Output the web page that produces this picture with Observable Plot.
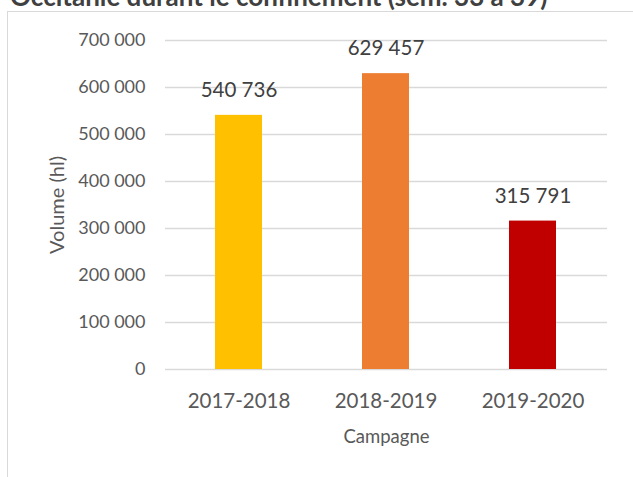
<!DOCTYPE html>
<html>
<head>
<meta charset="utf-8">
<script src="https://cdn.jsdelivr.net/npm/d3@7"></script>
<script src="https://cdn.jsdelivr.net/npm/@observablehq/plot@0.6"></script>
<style>
  html, body { margin: 0; padding: 0; background: #fff; overflow: hidden; width: 633px; height: 477px; }
  #wrap { position: relative; width: 633px; height: 477px; overflow: hidden; }
  #title { position: absolute; left: 10px; top: -17px; font: bold 26px Lato, sans-serif; color: #404040; white-space: nowrap; line-height: 26px; }
  #frame { position: absolute; left: 7px; top: 11px; width: 700px; height: 600px; border: 1.5px solid #d9d9d9; box-sizing: border-box; }
  #chart { position: absolute; left: 0; top: 0; }
</style>
</head>
<body>
<div id="wrap">
  <div id="frame"></div>
  <div id="title">Occitanie durant le confinement (sem. 33 à 39)</div>
  <div id="chart"></div>
</div>
<script>
const categories = ["2017-2018", "2018-2019", "2019-2020"];
const values = [540736, 629457, 315791];
const colors = ["#FFC000", "#ED7D31", "#C00000"];
const yTicks = [0, 100000, 200000, 300000, 400000, 500000, 600000, 700000];
const yLabel = "Volume (hl)";
const xLabel = "Campagne";

const data = categories.map((c, i) => ({campagne: c, volume: values[i], color: colors[i]}));
const fmt = v => d3.format(",")(v).replace(/,/g, " ");

const chart = Plot.plot({
  width: 633,
  height: 477,
  marginLeft: 165,
  marginRight: 26,
  marginTop: 40,
  marginBottom: 108,
  style: {fontFamily: "Lato, sans-serif", color: "#595959", background: "transparent", overflow: "visible"},
  x: {domain: categories, paddingInner: 0.68, paddingOuter: 0.34, axis: null},
  y: {domain: [0, 700000], axis: null},
  marks: [
    Plot.gridY(yTicks, {stroke: "#d9d9d9", strokeOpacity: 1, strokeWidth: 1.3}),
    Plot.barY(data, {x: "campagne", y: "volume", fill: "color"}),
    Plot.axisY(yTicks, {tickSize: 0, tickPadding: 20, tickFormat: fmt, fontSize: 18, fill: "#595959", label: null}),
    Plot.axisX(categories, {tickSize: 0, tickPadding: 24, fontSize: 20.5, fill: "#595959", label: null}),
    Plot.text(data, {x: "campagne", y: "volume", text: d => fmt(d.volume), dy: -25, lineAnchor: "middle", fontSize: 20.5, fill: "#404040"}),
    Plot.text([xLabel], {frameAnchor: "bottom", dy: 68, lineAnchor: "middle", textAnchor: "middle", fontSize: 18.5, fill: "#595959"}),
    Plot.text([yLabel], {frameAnchor: "left", dx: -108, rotate: -90, lineAnchor: "middle", textAnchor: "middle", fontSize: 20, fill: "#595959"})
  ]
});
document.getElementById("chart").appendChild(chart);
</script>
</body>
</html>
